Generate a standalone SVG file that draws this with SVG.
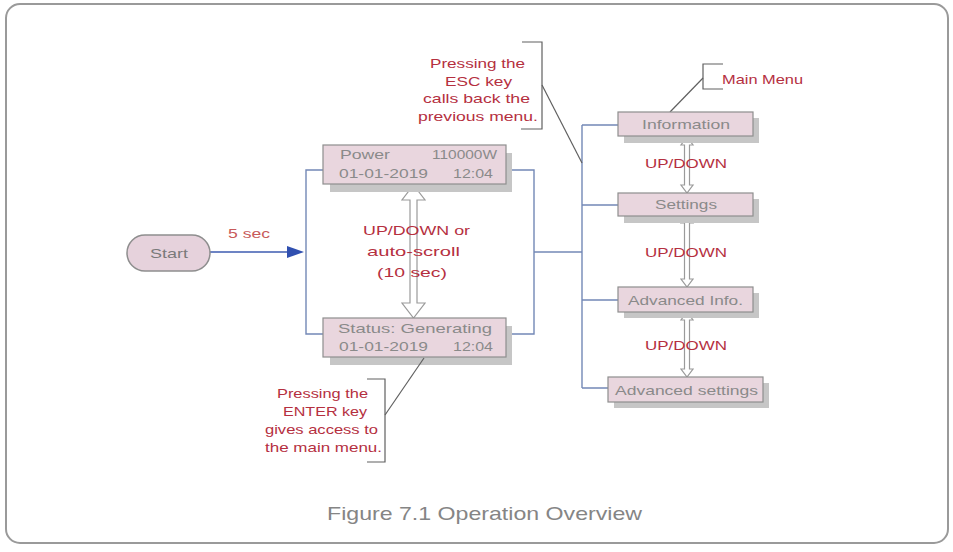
<svg xmlns="http://www.w3.org/2000/svg" width="953" height="552" viewBox="0 0 953 552">
<defs>
<style>
.frame{fill:#fff;stroke:#9a9a9a;stroke-width:2}
.box{fill:#e9d6de;stroke:#8e8e8e;stroke-width:1.2}
.shadow{fill:#c6c6c6}
.conn{fill:none;stroke:#7388b6;stroke-width:1.4}
.brk{fill:none;stroke:#606060;stroke-width:1.2}
.dbl{fill:#fff;stroke:#9a9a9a;stroke-width:1.2}
.bt{font-family:"Liberation Sans",Arial,sans-serif;font-size:13px;fill:#8a8a8a}
.rt{font-family:"Liberation Sans",Arial,sans-serif;font-size:13px;fill:#b5303f}
.cap{font-family:"Liberation Sans",Arial,sans-serif;font-size:19px;fill:#858585}
</style>
</defs>
<rect class="frame" x="6" y="4" width="942" height="539" rx="14"/>

<g id="connectors">
<line class="conn" x1="210" y1="252" x2="290" y2="252" style="stroke:#3d5bb0"/>
<path d="M304,252 L287,246 L287,258 Z" fill="#3050b0"/>
<path class="conn" d="M325,170 H306 V334 H325"/>
<path class="conn" d="M507,170 H534 V334 H507"/>
<path class="conn" d="M534,252 H582"/>
<path class="conn" d="M582,125 V388"/>
<path class="conn" d="M582,125 H618 M582,205 H618 M582,300 H618 M582,388 H608"/>
<path class="dbl" d="M413.5,185 L425,200 L417,200 L417,303 L425,303 L413.5,318 L402,303 L410,303 L410,200 L402,200 Z"/>
<path class="dbl" d="M687,137 L693,145 L689.5,145 L689.5,185 L693,185 L687,193 L681,185 L684.5,185 L684.5,145 L681,145 Z"/>
<path class="dbl" d="M687,215 L693,223 L689.5,223 L689.5,279 L693,279 L687,287 L681,279 L684.5,279 L684.5,223 L681,223 Z"/>
<path class="dbl" d="M687,312 L693,320 L689.5,320 L689.5,369 L693,369 L687,377 L681,369 L684.5,369 L684.5,320 L681,320 Z"/>
</g>

<g id="start">
<rect x="127" y="235" width="83" height="36" rx="18" fill="#e6d2dc" stroke="#8e8e8e" stroke-width="1.5"/>
<text class="bt" x="169" y="258" text-anchor="middle" textLength="38" lengthAdjust="spacingAndGlyphs" style="fill:#7a7a7a">Start</text>
</g>
<text class="rt" x="228" y="238" textLength="42" lengthAdjust="spacingAndGlyphs" style="fill:#c85a5a">5 sec</text>

<g id="power">
<rect class="shadow" x="330" y="153" width="182" height="39"/>
<rect class="box" x="323" y="145" width="183" height="39"/>
<text class="bt" x="340" y="159" textLength="50" lengthAdjust="spacingAndGlyphs">Power</text>
<text class="bt" x="432" y="159" textLength="65" lengthAdjust="spacingAndGlyphs">110000W</text>
<text class="bt" x="339" y="178" textLength="89" lengthAdjust="spacingAndGlyphs">01-01-2019</text>
<text class="bt" x="453" y="178" textLength="40" lengthAdjust="spacingAndGlyphs">12:04</text>
</g>

<g id="status">
<rect class="shadow" x="330" y="326" width="182" height="39"/>
<rect class="box" x="323" y="318" width="183" height="39"/>
<text class="bt" x="338" y="333" textLength="154" lengthAdjust="spacingAndGlyphs">Status: Generating</text>
<text class="bt" x="339" y="351" textLength="89" lengthAdjust="spacingAndGlyphs">01-01-2019</text>
<text class="bt" x="453" y="351" textLength="40" lengthAdjust="spacingAndGlyphs">12:04</text>
</g>

<g id="scroll-label">
<text class="rt" x="363" y="235" font-size="14" textLength="107" lengthAdjust="spacingAndGlyphs">UP/DOWN or</text>
<text class="rt" x="367" y="256" font-size="14" textLength="93" lengthAdjust="spacingAndGlyphs">auto-scroll</text>
<text class="rt" x="377" y="277" font-size="14" textLength="70" lengthAdjust="spacingAndGlyphs">(10 sec)</text>
</g>

<g id="esc-note">
<path class="brk" d="M522,42 H542 V129 H521"/>
<line class="brk" x1="542" y1="85" x2="582" y2="163"/>
<text class="rt" x="430" y="68" textLength="95" lengthAdjust="spacingAndGlyphs">Pressing the</text>
<text class="rt" x="445" y="86" textLength="67" lengthAdjust="spacingAndGlyphs">ESC key</text>
<text class="rt" x="423" y="103" textLength="107" lengthAdjust="spacingAndGlyphs">calls back the</text>
<text class="rt" x="418" y="121" textLength="120" lengthAdjust="spacingAndGlyphs">previous menu.</text>
</g>

<g id="enter-note">
<path class="brk" d="M367,379 H385 V462 H367"/>
<line class="brk" x1="385" y1="415" x2="424" y2="358"/>
<text class="rt" x="277" y="398" textLength="91" lengthAdjust="spacingAndGlyphs">Pressing the</text>
<text class="rt" x="283" y="416" textLength="84" lengthAdjust="spacingAndGlyphs">ENTER key</text>
<text class="rt" x="265" y="434" textLength="113" lengthAdjust="spacingAndGlyphs">gives access to</text>
<text class="rt" x="265" y="452" textLength="117" lengthAdjust="spacingAndGlyphs">the main menu.</text>
</g>

<g id="main-menu-note">
<path class="brk" d="M723,64 H703 V89 H723"/>
<line class="brk" x1="703" y1="78" x2="670" y2="112"/>
<text class="rt" x="722" y="84" font-size="14" textLength="81" lengthAdjust="spacingAndGlyphs">Main Menu</text>
</g>

<g id="information">
<rect class="shadow" x="624" y="118" width="135" height="25"/>
<rect class="box" x="618" y="112" width="135" height="24"/>
<text class="bt" x="642" y="129" font-size="14" textLength="88" lengthAdjust="spacingAndGlyphs">Information</text>
</g>
<g id="settings">
<rect class="shadow" x="624" y="199" width="135" height="24"/>
<rect class="box" x="618" y="193" width="135" height="23"/>
<text class="bt" x="655" y="209" font-size="14" textLength="62" lengthAdjust="spacingAndGlyphs">Settings</text>
</g>
<g id="advanced-info">
<rect class="shadow" x="624" y="293" width="135" height="25"/>
<rect class="box" x="618" y="287" width="135" height="25"/>
<text class="bt" x="628" y="305" font-size="14" textLength="115" lengthAdjust="spacingAndGlyphs">Advanced Info.</text>
</g>
<g id="advanced-settings">
<rect class="shadow" x="614" y="383" width="155" height="25"/>
<rect class="box" x="608" y="377" width="155" height="25"/>
<text class="bt" x="615" y="395" font-size="14" textLength="143" lengthAdjust="spacingAndGlyphs">Advanced settings</text>
</g>

<g id="updown-labels">
<text class="rt" x="645" y="168" textLength="82" lengthAdjust="spacingAndGlyphs">UP/DOWN</text>
<text class="rt" x="645" y="257" textLength="82" lengthAdjust="spacingAndGlyphs">UP/DOWN</text>
<text class="rt" x="645" y="350" textLength="82" lengthAdjust="spacingAndGlyphs">UP/DOWN</text>
</g>

<text class="cap" x="327" y="520" textLength="315" lengthAdjust="spacingAndGlyphs">Figure 7.1 Operation Overview</text>
</svg>
